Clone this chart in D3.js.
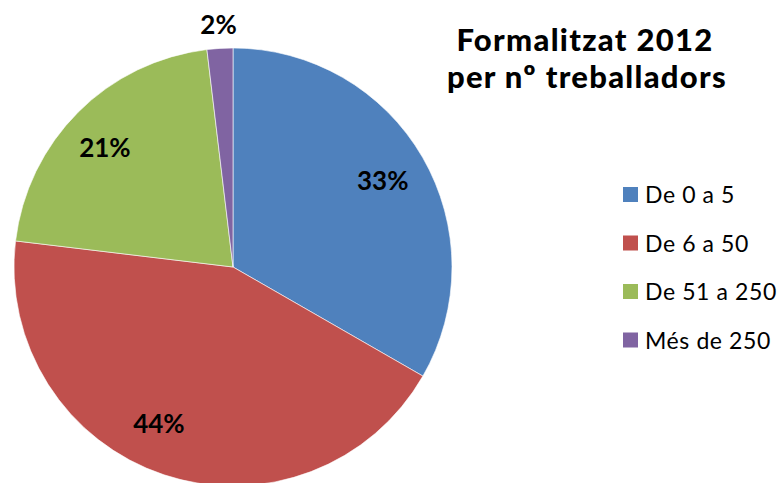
<!DOCTYPE html>
<html><head><meta charset="utf-8">
<script src="https://cdn.jsdelivr.net/npm/d3@7"></script>
<style>body{margin:0;background:#fff}svg{display:block}text{font-family:Lato,"Open Sans",sans-serif}</style>
</head><body>
<svg id="c" width="778" height="483"></svg>
<script>
const categories = ["De 0 a 5", "De 6 a 50", "De 51 a 250", "Més de 250"];
const values = [33.3, 43.6, 21.2, 1.9];
const colors = ["#4F81BD", "#C0504D", "#9BBB59", "#8064A2"];
const titleLines = ["Formalitzat 2012", "per nº treballadors"];

const svg = d3.select("#c");
const cx = 233, cy = 267, r = 219;
const pie = d3.pie().sort(null).value(d => d)(values);
const arc = d3.arc().innerRadius(0).outerRadius(r);
const g = svg.append("g").attr("transform", `translate(${cx},${cy})`);
g.selectAll("path").data(pie).join("path")
  .attr("d", arc).attr("fill", (d, i) => colors[i])
  .attr("stroke", "#fff").attr("stroke-width", 0.6);

const total = d3.sum(values);
// [radius factor, angular tweak in degrees]
const labelPos = [[0.79, 0], [0.79, 7], [0.80, -2], [1.11, 0]];
g.selectAll("text.lbl").data(pie).join("text").attr("class", "lbl")
  .attr("transform", (d, i) => {
    const a = (d.startAngle + d.endAngle) / 2 + labelPos[i][1] * Math.PI / 180;
    const k = labelPos[i][0] * r;
    return `translate(${Math.sin(a) * k},${-Math.cos(a) * k})`;
  })
  .attr("text-anchor", "middle").attr("dy", "0.36em")
  .attr("font-size", 26).attr("font-weight", "bold").attr("fill", "#000")
  .text(d => Math.round(d.value / total * 100) + "%");

svg.append("text").attr("x", 585).attr("y", 51).attr("text-anchor", "middle")
  .attr("font-size", 31).attr("font-weight", "900").attr("letter-spacing", 1.3).text(titleLines[0]);
svg.append("text").attr("x", 587).attr("y", 88).attr("text-anchor", "middle")
  .attr("font-size", 31).attr("font-weight", "900").attr("letter-spacing", 1.3).text(titleLines[1]);

const lg = svg.append("g").attr("transform", "translate(623,195)");
const row = lg.selectAll("g").data(categories).join("g")
  .attr("transform", (d, i) => `translate(0,${i * 48.5})`);
row.append("rect").attr("x", 0).attr("y", -8).attr("width", 15).attr("height", 15)
  .attr("fill", (d, i) => colors[i]);
row.append("text").attr("x", 22).attr("dy", "0.36em").attr("font-size", 23)
  .attr("letter-spacing", 0.6).text(d => d);
</script>
</body></html>
